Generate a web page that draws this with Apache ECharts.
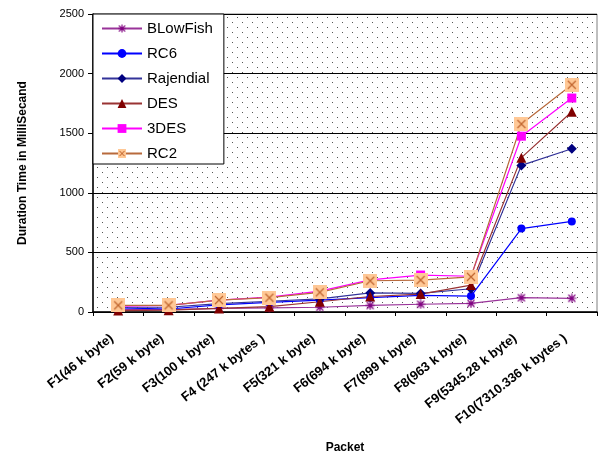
<!DOCTYPE html>
<html>
<head>
<meta charset="utf-8">
<script src="https://cdn.jsdelivr.net/npm/echarts@6/dist/echarts.min.js"></script>
<style>
html,body{margin:0;padding:0;background:#fff;}
#c{width:601px;height:454px;}
</style>
</head>
<body>
<div id="c"></div>
<script>
var categories = ["F1(46 k byte)", "F2(59 k byte)", "F3(100 k byte)", "F4 (247 k bytes )", "F5(321 k byte)", "F6(694 k byte)", "F7(899 k byte)", "F8(963 k byte)", "F9(5345.28 k byte)", "F10(7310.336 k bytes )"];
var blowfish = [20, 20, 30, 35, 40, 55, 65, 72, 120, 115];
var rc6 = [35, 25, 60, 80, 100, 120, 140, 134, 700, 760];
var rajendial = [40, 40, 70, 90, 110, 160, 156, 195, 1230, 1370];
var des = [12, 15, 30, 45, 86, 130, 150, 226, 1295, 1680];
var des3 = [50, 55, 100, 125, 175, 270, 310, 300, 1475, 1795];
var rc2 = [56, 56, 100, 120, 165, 262, 268, 295, 1577, 1906];
var yTicks = [0, 500, 1000, 1500, 2000, 2500];

function mk(w, h, draw) {
  var c = document.createElement('canvas');
  c.width = w; c.height = h;
  draw(c.getContext('2d'));
  return c;
}
var dots = mk(10, 10, function (g) {
  g.fillStyle = '#ffffff'; g.fillRect(0, 0, 10, 10);
  g.fillStyle = '#555555';
  g.fillRect(2, 2, 1, 1);
  g.fillRect(7, 7, 1, 1);
});
var rc2Sym = 'image://' + mk(14, 14, function (g) {
  g.fillStyle = '#FFC896'; g.fillRect(0, 0, 14, 14);
  g.strokeStyle = '#C0652E'; g.lineWidth = 1.2;
  g.beginPath(); g.moveTo(3, 3); g.lineTo(11, 11); g.moveTo(11, 3); g.lineTo(3, 11); g.stroke();
}).toDataURL();
var starSym = 'image://' + mk(10, 10, function (g) {
  g.strokeStyle = '#800080'; g.lineWidth = 1.2;
  g.beginPath();
  g.moveTo(5, 0.5); g.lineTo(5, 9.5);
  g.moveTo(0.5, 5); g.lineTo(9.5, 5);
  g.moveTo(1.5, 1.5); g.lineTo(8.5, 8.5);
  g.moveTo(8.5, 1.5); g.lineTo(1.5, 8.5);
  g.stroke();
}).toDataURL();

function ser(name, data, color, symbol, size, lineColor) {
  return {
    name: name, type: 'line', data: data,
    symbol: symbol, symbolSize: size,
    itemStyle: { color: color },
    lineStyle: { color: lineColor || color, width: 1.2 },
    emphasis: { disabled: true }
  };
}

var chart = echarts.init(document.getElementById('c'), null, { renderer: 'canvas' });
chart.setOption({
  animation: false,
  backgroundColor: '#ffffff',
  grid: {
    left: 93, right: 4, top: 14, bottom: 142,
    containLabel: false,
    outerBoundsMode: 'none',
    show: true,
    backgroundColor: { image: dots, repeat: 'repeat' },
    borderColor: '#808080', borderWidth: 1
  },
  legend: {
    orient: 'vertical', left: 93, top: 14,
    itemWidth: 40, itemHeight: 11, itemGap: 10,
    padding: [7, 11, 3, 8],
    backgroundColor: '#ffffff', borderColor: '#000000', borderWidth: 1,
    textStyle: { fontFamily: 'Liberation Sans, Arial', fontSize: 15, color: '#000' },
    data: ['BLowFish', 'RC6', 'Rajendial', 'DES', '3DES', 'RC2']
  },
  xAxis: {
    type: 'category', data: categories, boundaryGap: true,
    name: 'Packet', nameLocation: 'middle', nameGap: 130,
    nameTextStyle: { fontFamily: 'Liberation Sans, Arial', fontWeight: 'bold', fontSize: 12, color: '#000' },
    axisLine: { lineStyle: { color: '#000', width: 1.5 } },
    axisTick: { show: true, length: 4, lineStyle: { color: '#000' } },
    axisLabel: { rotate: 38, margin: 20, padding: [0, 8, 0, 0], fontFamily: 'Liberation Sans, Arial', fontWeight: 'bold', fontSize: 13, color: '#000' },
    splitLine: { show: false }
  },
  yAxis: {
    type: 'value', min: yTicks[0], max: yTicks[yTicks.length - 1], interval: 500,
    name: 'Duration Time in MilliSecand', nameLocation: 'middle', nameGap: 64,
    nameTextStyle: { fontFamily: 'Liberation Sans, Arial', fontWeight: 'bold', fontSize: 12, color: '#000' },
    axisLine: { show: true, lineStyle: { color: '#000', width: 1.5 } },
    axisTick: { show: true, length: 5, lineStyle: { color: '#000' } },
    axisLabel: { margin: 9, formatter: function (v) { return String(v); }, fontFamily: 'Liberation Sans, Arial', fontSize: 11, color: '#000' },
    splitLine: { show: true, lineStyle: { color: '#000', width: 1 } }
  },
  series: [
    ser('BLowFish', blowfish, '#800080', starSym, 10, '#993399'),
    ser('RC6', rc6, '#0000FF', 'circle', 8),
    ser('Rajendial', rajendial, '#000080', 'diamond', 10, '#333399'),
    ser('DES', des, '#800000', 'triangle', 10, '#993333'),
    ser('3DES', des3, '#FF00FF', 'rect', 9),
    ser('RC2', rc2, '#C0652E', rc2Sym, 14, '#B86A3C')
  ]
});
</script>
</body>
</html>
